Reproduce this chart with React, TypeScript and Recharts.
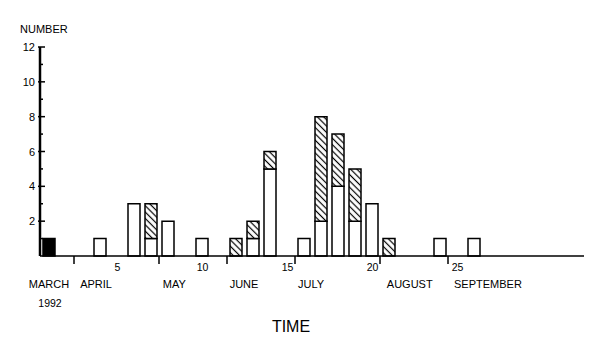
import { BarChart, Bar, XAxis, YAxis } from "recharts";

// weekly counts, March 1992 onward
const weeks = [
  1, 2, 3, 4, 5, 6, 7, 8, 9, 10, 11, 12, 13, 14, 15, 16,
  17, 18, 19, 20, 21, 22, 23, 24, 25, 26, 27, 28, 29, 30, 31, 32,
];
const solidVals = [
  1, 0, 0, 0, 0, 0, 0, 0, 0, 0, 0, 0, 0, 0, 0, 0,
  0, 0, 0, 0, 0, 0, 0, 0, 0, 0, 0, 0, 0, 0, 0, 0,
];
const openVals = [
  0, 0, 0, 1, 0, 3, 1, 2, 0, 1, 0, 0, 1, 5, 0, 1,
  2, 4, 2, 3, 0, 0, 0, 1, 0, 1, 0, 0, 0, 0, 0, 0,
];
const hatchVals = [
  0, 0, 0, 0, 0, 0, 2, 0, 0, 0, 0, 1, 1, 1, 0, 0,
  6, 3, 3, 0, 1, 0, 0, 0, 0, 0, 0, 0, 0, 0, 0, 0,
];

const weekLabels = [5, 10, 15, 20, 25];
const monthBounds = [2.5, 7.5, 11.5, 15.5, 20.5, 24.5];
const monthNames = ["MARCH", "APRIL", "MAY", "JUNE", "JULY", "AUGUST", "SEPTEMBER"];
const monthPos = [1.03, 3.8, 8.4, 12.5, 16.45, 22.25, 26.85];
const yTicks = [1, 2, 3, 4, 5, 6, 7, 8, 9, 10, 11, 12];

const FONT = "'Liberation Sans', Arial, sans-serif";

const data = weeks.map((w, i) => ({
  week: w,
  solid: solidVals[i],
  open: openVals[i],
  hatch: hatchVals[i],
}));

const weekTicks = [...monthBounds, ...weekLabels].sort((a, b) => a - b);

function WeekTick(props: any) {
  const { x, y, payload } = props;
  const v = payload.value;
  if (monthBounds.includes(v)) {
    return <line x1={x} x2={x} y1={y} y2={y + 8} stroke="#000" strokeWidth={1.5} />;
  }
  return (
    <text x={x + 1} y={y + 15} textAnchor="middle" fontSize={10.5} fill="#000" fontFamily={FONT}>
      {v}
    </text>
  );
}

function MonthTick(props: any) {
  const { x, y, payload } = props;
  const idx = monthPos.indexOf(payload.value);
  return (
    <g>
      <text x={x} y={y + 12} textAnchor="middle" fontSize={11} fill="#000" fontFamily={FONT}>
        {monthNames[idx]}
      </text>
      {idx === 0 && (
        <text x={x + 1} y={y + 31} textAnchor="middle" fontSize={10.5} fill="#000" fontFamily={FONT}>
          1992
        </text>
      )}
    </g>
  );
}

function NumTick(props: any) {
  const { x, y, payload } = props;
  const v = payload.value;
  const major = v % 2 === 0;
  return (
    <g>
      <line
        x1={major ? x - 2 : x}
        x2={major ? x + 5 : x + 3}
        y1={y}
        y2={y}
        stroke="#000"
        strokeWidth={1.5}
      />
      {major && (
        <text x={x - 5} y={y + 4} textAnchor="end" fontSize={11} fill="#000" fontFamily={FONT}>
          {v}
        </text>
      )}
    </g>
  );
}

export default function App() {
  return (
    <div style={{ position: "absolute", left: 0, top: 0, background: "#fff" }}>
      <BarChart
        width={600}
        height={360}
        data={data}
        margin={{ top: 47, right: 16, bottom: 24, left: 0 }}
        barSize={12}
        style={{ fontFamily: FONT }}
      >
        <defs>
          <pattern
            id="hatch"
            width="4.5"
            height="4.5"
            patternUnits="userSpaceOnUse"
            patternTransform="rotate(45)"
          >
            <rect width="4.5" height="4.5" fill="#fff" />
            <line x1="0" y1="2.25" x2="4.5" y2="2.25" stroke="#000" strokeWidth="1.2" />
          </pattern>
        </defs>
        <XAxis
          dataKey="week"
          type="number"
          domain={[0.5, 32.5]}
          allowDataOverflow
          ticks={weekTicks}
          interval={0}
          tickSize={0}
          tickMargin={0}
          tick={<WeekTick />}
          height={20}
          axisLine={{ stroke: "#000", strokeWidth: 1.5 }}
        />
        <XAxis
          xAxisId="mo"
          dataKey="week"
          type="number"
          domain={[0.5, 32.5]}
          allowDataOverflow
          ticks={monthPos}
          interval={0}
          tickSize={0}
          tickMargin={0}
          tick={<MonthTick />}
          axisLine={false}
          height={60}
          label={{
            content: (p: any) => (
              <text
                x={p.viewBox.x + p.viewBox.width / 2 - 21}
                y={p.viewBox.y + 56}
                textAnchor="middle"
                fontSize={16}
                fill="#000"
                fontFamily={FONT}
              >
                TIME
              </text>
            ),
          }}
        />
        <YAxis
          width={40}
          domain={[0, 12]}
          ticks={yTicks}
          interval={0}
          tickSize={0}
          tickMargin={0}
          tick={<NumTick />}
          axisLine={{ stroke: "#000", strokeWidth: 2.5 }}
          label={{
            content: (p: any) => (
              <text x={20} y={p.viewBox.y - 14} fontSize={11} fill="#000" fontFamily={FONT}>
                NUMBER
              </text>
            ),
          }}
        />
        <Bar dataKey="solid" stackId="s" fill="#000" stroke="#000" strokeWidth={1.5} isAnimationActive={false} />
        <Bar dataKey="open" stackId="s" fill="#fff" stroke="#000" strokeWidth={1.5} isAnimationActive={false} />
        <Bar dataKey="hatch" stackId="s" fill="url(#hatch)" stroke="#000" strokeWidth={1.5} isAnimationActive={false} />
      </BarChart>
    </div>
  );
}
